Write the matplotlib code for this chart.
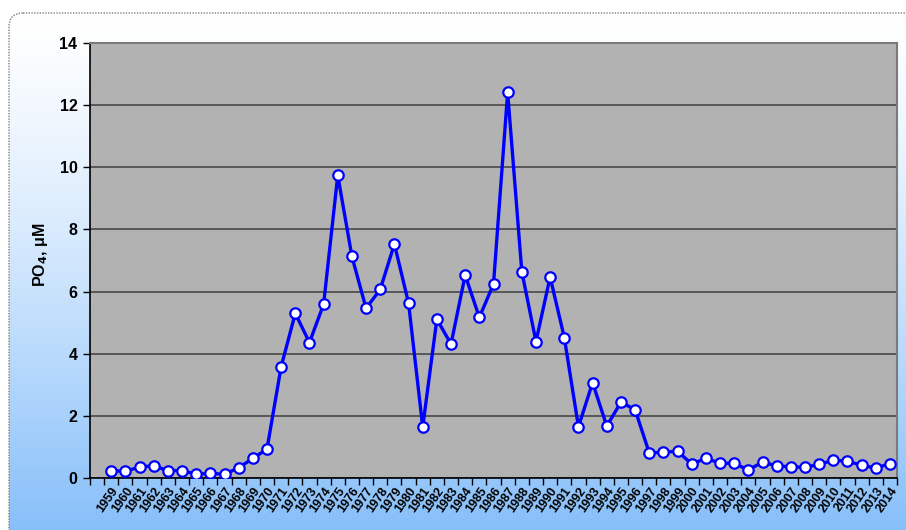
import matplotlib
matplotlib.use("Agg")
import matplotlib.pyplot as plt
import numpy as np
from matplotlib.patches import FancyBboxPatch

# data
years = list(range(1959, 2015))
po4 = [
    0.24, 0.21, 0.36, 0.39, 0.24, 0.24, 0.12, 0.15, 0.12, 0.33,
    0.63, 0.93, 3.58, 5.30, 4.36, 5.59, 9.74, 7.13, 5.46, 6.07,
    7.53, 5.63, 1.64, 5.11, 4.31, 6.53, 5.17, 6.24, 12.41, 6.64,
    4.39, 6.47, 4.52, 1.65, 3.07, 1.67, 2.44, 2.20, 0.81, 0.83,
    0.86, 0.45, 0.63, 0.48, 0.47, 0.26, 0.51, 0.39, 0.36, 0.34,
    0.44, 0.57, 0.54, 0.41, 0.32, 0.46,
]
y_ticks = [0, 2, 4, 6, 8, 10, 12, 14]
y_label = r"PO$_\mathbf{4}$, μM"

plt.rcParams['font.family'] = ['Liberation Sans', 'DejaVu Sans']

W, H = 906, 530
fig = plt.figure(figsize=(W / 100, H / 100), dpi=100)

# background: rounded dotted frame with white -> light blue gradient
bg = fig.add_axes([0, 0, 1, 1])
bg.set_xlim(0, W)
bg.set_ylim(H, 0)
bg.axis('off')
grad = np.linspace(0, 1, 256) ** 1.3
top_c = np.array([1.0, 1.0, 1.0])
bot_c = np.array([0.53, 0.75, 0.98])
img = top_c[None, :] * (1 - grad[:, None]) + bot_c[None, :] * grad[:, None]
img = np.repeat(img[:, None, :], 2, axis=1)
frame = FancyBboxPatch((9, 13), W + 20, H + 20,
                       boxstyle="round,pad=0,rounding_size=14",
                       facecolor='none', edgecolor='#808080',
                       linewidth=1.0, linestyle=(0, (1, 1)))
bg.add_patch(frame)
im = bg.imshow(img, extent=(9, W + 30, H, 13), aspect='auto', zorder=0)
im.set_clip_path(frame)

# main plot area
ax = fig.add_axes([90 / W, 1 - 478 / H, (897 - 90) / W, (478 - 43) / H])
ax.set_facecolor('#b2b2b2')
ax.plot(years, po4, color='#0000ff', linewidth=2.4, marker='o',
        markersize=7.5, markerfacecolor='white', markeredgecolor='#0000ff',
        markeredgewidth=1.6, zorder=3)

ax.set_xlim(1957.5, 2014.5)
ax.set_ylim(0, 14)
ax.set_yticks(y_ticks)
ax.set_yticklabels([str(v) for v in y_ticks], fontsize=11.5, fontweight='bold')
ax.yaxis.grid(True, color='#505050', linewidth=1.3)
ax.set_axisbelow(True)

ax.set_xticks(years)
ax.set_xticklabels([str(y) for y in years], rotation=55, ha='right',
                   rotation_mode='anchor', fontsize=9, fontweight='bold')
ax.set_xticks(np.arange(1957.5, 2015, 1), minor=True)
ax.tick_params(axis='x', which='major', length=0, pad=5)
ax.tick_params(axis='x', which='minor', length=5, width=1, direction='out')
ax.tick_params(axis='y', length=5, width=1, direction='out', pad=4)

for s in ['left', 'bottom']:
    ax.spines[s].set_color('black')
    ax.spines[s].set_linewidth(1.2)
for s in ['top', 'right']:
    ax.spines[s].set_color('#7a7a7a')
    ax.spines[s].set_linewidth(1.5)

fig.text(40 / W, 1 - 255 / H, y_label, rotation=90, fontsize=11.5,
         fontweight='bold', ha='center', va='center')

fig.savefig('out.png', dpi=100)
